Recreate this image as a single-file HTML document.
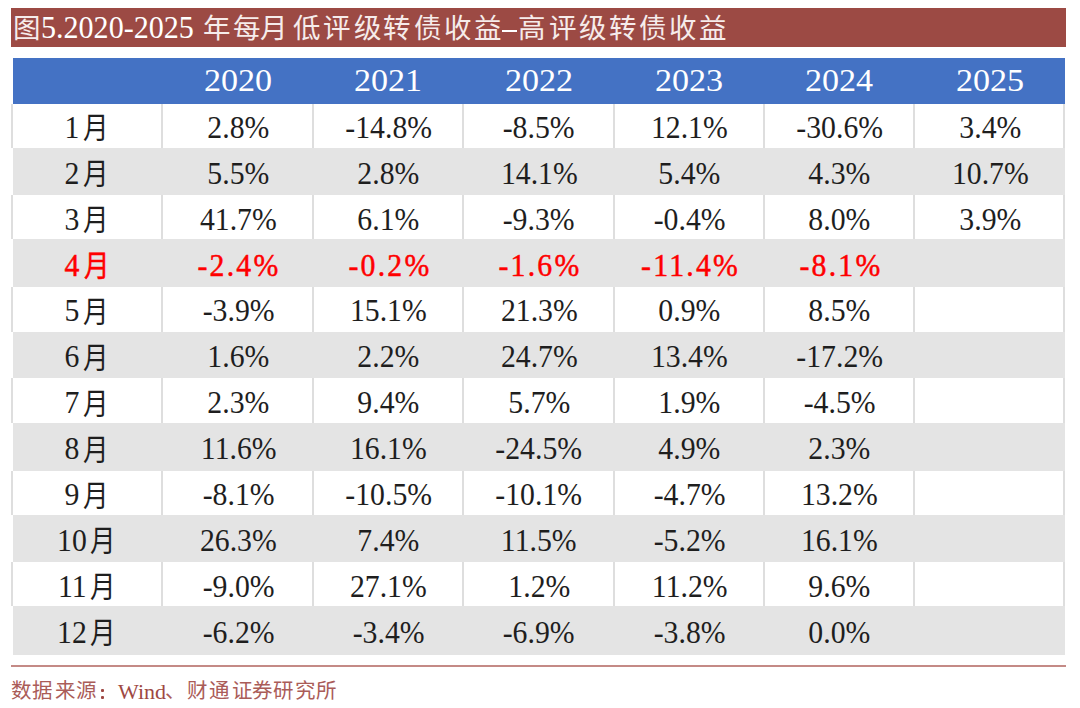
<!DOCTYPE html>
<html lang="zh-CN"><head><meta charset="utf-8"><style>
html,body{margin:0;padding:0;background:#fff;width:1080px;height:708px;overflow:hidden;position:relative}
body{font-family:"Liberation Serif",serif;color:#1e1e1e}
.t{position:absolute;white-space:nowrap;text-align:center;line-height:1;width:150px}
.c{position:absolute;white-space:nowrap;text-align:center;line-height:1;width:60px}
.t span,.c span{display:inline-block}
.bar{position:absolute;left:11px;top:8px;width:1055px;height:39px;background:#9C4A44}
.hdr{position:absolute;left:13px;top:58px;width:1052px;height:46px;background:#4472C4}
.g{position:absolute;left:13px;width:1052px;background:#E4E4E4}
.vl{position:absolute;width:2px;background:#DEDEDE}
.red{color:#FF0000;-webkit-text-stroke:0.5px #FF0000}
.w{color:#fff}
.s{color:#9E4843}
.sc{color:#AA5C58}
.wc{color:#F6ECEB}
.rl{position:absolute;left:11px;top:665px;width:1055px;height:2px;background:#C48A86}
.n{position:absolute;white-space:nowrap;line-height:1}
</style></head><body>

<div class="bar"></div>
<div class="c wc" style="left:-3.9px;width:60px;top:15.3px;font-size:27.5px">图</div>
<div class="c wc" style="left:186.0px;width:60px;top:15.3px;font-size:27.5px">年</div>
<div class="c wc" style="left:216.2px;width:60px;top:15.3px;font-size:27.5px">每</div>
<div class="c wc" style="left:243.8px;width:60px;top:15.3px;font-size:27.5px">月</div>
<div class="c wc" style="left:276.5px;width:60px;top:15.3px;font-size:27.5px">低</div>
<div class="c wc" style="left:306.5px;width:60px;top:15.3px;font-size:27.5px">评</div>
<div class="c wc" style="left:337.2px;width:60px;top:15.3px;font-size:27.5px">级</div>
<div class="c wc" style="left:366.7px;width:60px;top:15.3px;font-size:27.5px">转</div>
<div class="c wc" style="left:397.1px;width:60px;top:15.3px;font-size:27.5px">债</div>
<div class="c wc" style="left:427.0px;width:60px;top:15.3px;font-size:27.5px">收</div>
<div class="c wc" style="left:457.0px;width:60px;top:15.3px;font-size:27.5px">益</div>
<div class="c wc" style="left:501.4px;width:60px;top:15.3px;font-size:27.5px">高</div>
<div class="c wc" style="left:532.2px;width:60px;top:15.3px;font-size:27.5px">评</div>
<div class="c wc" style="left:562.6px;width:60px;top:15.3px;font-size:27.5px">级</div>
<div class="c wc" style="left:592.1px;width:60px;top:15.3px;font-size:27.5px">转</div>
<div class="c wc" style="left:622.5px;width:60px;top:15.3px;font-size:27.5px">债</div>
<div class="c wc" style="left:652.6px;width:60px;top:15.3px;font-size:27.5px">收</div>
<div class="c wc" style="left:682.5px;width:60px;top:15.3px;font-size:27.5px">益</div>
<div class="n w" style="left:40.5px;top:11.5px;font-size:31px;transform:scaleX(0.97);transform-origin:0 0">5.2020-2025</div>
<div style="position:absolute;left:501.7px;top:30px;width:15.5px;height:1.8px;background:#fff"></div>
<div class="hdr"></div>
<div class="vl" style="left:11px;top:104px;height:44px"></div>
<div class="vl" style="left:161px;top:104px;height:44px"></div>
<div class="vl" style="left:312px;top:104px;height:44px"></div>
<div class="vl" style="left:462px;top:104px;height:44px"></div>
<div class="vl" style="left:613px;top:104px;height:44px"></div>
<div class="vl" style="left:763px;top:104px;height:44px"></div>
<div class="vl" style="left:913px;top:104px;height:44px"></div>
<div class="vl" style="left:1063px;top:104px;height:44px"></div>
<div class="g" style="top:148px;height:47.0px"></div>
<div class="vl" style="left:11px;top:195px;height:44px"></div>
<div class="vl" style="left:161px;top:195px;height:44px"></div>
<div class="vl" style="left:312px;top:195px;height:44px"></div>
<div class="vl" style="left:462px;top:195px;height:44px"></div>
<div class="vl" style="left:613px;top:195px;height:44px"></div>
<div class="vl" style="left:763px;top:195px;height:44px"></div>
<div class="vl" style="left:913px;top:195px;height:44px"></div>
<div class="vl" style="left:1063px;top:195px;height:44px"></div>
<div class="g" style="top:239px;height:48.0px"></div>
<div class="vl" style="left:11px;top:287px;height:45px"></div>
<div class="vl" style="left:161px;top:287px;height:45px"></div>
<div class="vl" style="left:312px;top:287px;height:45px"></div>
<div class="vl" style="left:462px;top:287px;height:45px"></div>
<div class="vl" style="left:613px;top:287px;height:45px"></div>
<div class="vl" style="left:763px;top:287px;height:45px"></div>
<div class="vl" style="left:913px;top:287px;height:45px"></div>
<div class="vl" style="left:1063px;top:287px;height:45px"></div>
<div class="g" style="top:332px;height:46.0px"></div>
<div class="vl" style="left:11px;top:378px;height:45px"></div>
<div class="vl" style="left:161px;top:378px;height:45px"></div>
<div class="vl" style="left:312px;top:378px;height:45px"></div>
<div class="vl" style="left:462px;top:378px;height:45px"></div>
<div class="vl" style="left:613px;top:378px;height:45px"></div>
<div class="vl" style="left:763px;top:378px;height:45px"></div>
<div class="vl" style="left:913px;top:378px;height:45px"></div>
<div class="vl" style="left:1063px;top:378px;height:45px"></div>
<div class="g" style="top:423px;height:48.0px"></div>
<div class="vl" style="left:11px;top:471px;height:44px"></div>
<div class="vl" style="left:161px;top:471px;height:44px"></div>
<div class="vl" style="left:312px;top:471px;height:44px"></div>
<div class="vl" style="left:462px;top:471px;height:44px"></div>
<div class="vl" style="left:613px;top:471px;height:44px"></div>
<div class="vl" style="left:763px;top:471px;height:44px"></div>
<div class="vl" style="left:913px;top:471px;height:44px"></div>
<div class="vl" style="left:1063px;top:471px;height:44px"></div>
<div class="g" style="top:515px;height:47.0px"></div>
<div class="vl" style="left:11px;top:562px;height:44px"></div>
<div class="vl" style="left:161px;top:562px;height:44px"></div>
<div class="vl" style="left:312px;top:562px;height:44px"></div>
<div class="vl" style="left:462px;top:562px;height:44px"></div>
<div class="vl" style="left:613px;top:562px;height:44px"></div>
<div class="vl" style="left:763px;top:562px;height:44px"></div>
<div class="vl" style="left:913px;top:562px;height:44px"></div>
<div class="vl" style="left:1063px;top:562px;height:44px"></div>
<div class="g" style="top:606px;height:49.0px"></div>
<div class="t w" style="left:163.0px;top:65.2px;font-size:31px"><span style="transform:scaleX(1.1)">2020</span></div>
<div class="t w" style="left:313.2px;top:65.2px;font-size:31px"><span style="transform:scaleX(1.1)">2021</span></div>
<div class="t w" style="left:463.7px;top:65.2px;font-size:31px"><span style="transform:scaleX(1.1)">2022</span></div>
<div class="t w" style="left:614.1px;top:65.2px;font-size:31px"><span style="transform:scaleX(1.1)">2023</span></div>
<div class="t w" style="left:764.4px;top:65.2px;font-size:31px"><span style="transform:scaleX(1.1)">2024</span></div>
<div class="t w" style="left:914.6px;top:65.2px;font-size:31px"><span style="transform:scaleX(1.1)">2025</span></div>
<div class="c " style="left:42.2px;width:60px;top:110.8px;font-size:32px"><span style="transform:scaleX(0.93)">1</span></div>
<div class="c " style="left:66.3px;width:60px;top:113.3px;font-size:30px"><span style="transform:scaleX(0.85)">月</span></div>
<div class="t " style="left:163.3px;top:110.8px;font-size:32px"><span style="transform:scaleX(0.93)">2.8%</span></div>
<div class="t " style="left:313.6px;top:110.8px;font-size:32px"><span style="transform:scaleX(0.93)">-14.8%</span></div>
<div class="t " style="left:464.0px;top:110.8px;font-size:32px"><span style="transform:scaleX(0.93)">-8.5%</span></div>
<div class="t " style="left:614.4px;top:110.8px;font-size:32px"><span style="transform:scaleX(0.93)">12.1%</span></div>
<div class="t " style="left:764.7px;top:110.8px;font-size:32px"><span style="transform:scaleX(0.93)">-30.6%</span></div>
<div class="t " style="left:914.9px;top:110.8px;font-size:32px"><span style="transform:scaleX(0.93)">3.4%</span></div>
<div class="c " style="left:42.2px;width:60px;top:156.7px;font-size:32px"><span style="transform:scaleX(0.93)">2</span></div>
<div class="c " style="left:66.3px;width:60px;top:159.2px;font-size:30px"><span style="transform:scaleX(0.85)">月</span></div>
<div class="t " style="left:163.3px;top:156.7px;font-size:32px"><span style="transform:scaleX(0.93)">5.5%</span></div>
<div class="t " style="left:313.6px;top:156.7px;font-size:32px"><span style="transform:scaleX(0.93)">2.8%</span></div>
<div class="t " style="left:464.0px;top:156.7px;font-size:32px"><span style="transform:scaleX(0.93)">14.1%</span></div>
<div class="t " style="left:614.4px;top:156.7px;font-size:32px"><span style="transform:scaleX(0.93)">5.4%</span></div>
<div class="t " style="left:764.7px;top:156.7px;font-size:32px"><span style="transform:scaleX(0.93)">4.3%</span></div>
<div class="t " style="left:914.9px;top:156.7px;font-size:32px"><span style="transform:scaleX(0.93)">10.7%</span></div>
<div class="c " style="left:42.2px;width:60px;top:202.6px;font-size:32px"><span style="transform:scaleX(0.93)">3</span></div>
<div class="c " style="left:66.3px;width:60px;top:205.1px;font-size:30px"><span style="transform:scaleX(0.85)">月</span></div>
<div class="t " style="left:163.3px;top:202.6px;font-size:32px"><span style="transform:scaleX(0.93)">41.7%</span></div>
<div class="t " style="left:313.6px;top:202.6px;font-size:32px"><span style="transform:scaleX(0.93)">6.1%</span></div>
<div class="t " style="left:464.0px;top:202.6px;font-size:32px"><span style="transform:scaleX(0.93)">-9.3%</span></div>
<div class="t " style="left:614.4px;top:202.6px;font-size:32px"><span style="transform:scaleX(0.93)">-0.4%</span></div>
<div class="t " style="left:764.7px;top:202.6px;font-size:32px"><span style="transform:scaleX(0.93)">8.0%</span></div>
<div class="t " style="left:914.9px;top:202.6px;font-size:32px"><span style="transform:scaleX(0.93)">3.9%</span></div>
<div class="c red" style="left:42.2px;width:60px;top:248.5px;font-size:32px"><span style="transform:scaleX(0.93)">4</span></div>
<div class="c red" style="left:67.3px;width:60px;top:251.0px;font-size:30px"><span style="transform:scaleX(0.85)">月</span></div>
<div class="t red" style="left:163.3px;top:248.5px;font-size:32px"><span style="transform:scaleX(0.93);letter-spacing:2.4px;padding-left:2.4px">-2.4%</span></div>
<div class="t red" style="left:313.6px;top:248.5px;font-size:32px"><span style="transform:scaleX(0.93);letter-spacing:2.4px;padding-left:2.4px">-0.2%</span></div>
<div class="t red" style="left:464.0px;top:248.5px;font-size:32px"><span style="transform:scaleX(0.93);letter-spacing:2.4px;padding-left:2.4px">-1.6%</span></div>
<div class="t red" style="left:614.4px;top:248.5px;font-size:32px"><span style="transform:scaleX(0.93);letter-spacing:2.4px;padding-left:2.4px">-11.4%</span></div>
<div class="t red" style="left:764.7px;top:248.5px;font-size:32px"><span style="transform:scaleX(0.93);letter-spacing:2.4px;padding-left:2.4px">-8.1%</span></div>
<div class="c " style="left:42.2px;width:60px;top:294.4px;font-size:32px"><span style="transform:scaleX(0.93)">5</span></div>
<div class="c " style="left:66.3px;width:60px;top:296.9px;font-size:30px"><span style="transform:scaleX(0.85)">月</span></div>
<div class="t " style="left:163.3px;top:294.4px;font-size:32px"><span style="transform:scaleX(0.93)">-3.9%</span></div>
<div class="t " style="left:313.6px;top:294.4px;font-size:32px"><span style="transform:scaleX(0.93)">15.1%</span></div>
<div class="t " style="left:464.0px;top:294.4px;font-size:32px"><span style="transform:scaleX(0.93)">21.3%</span></div>
<div class="t " style="left:614.4px;top:294.4px;font-size:32px"><span style="transform:scaleX(0.93)">0.9%</span></div>
<div class="t " style="left:764.7px;top:294.4px;font-size:32px"><span style="transform:scaleX(0.93)">8.5%</span></div>
<div class="c " style="left:42.2px;width:60px;top:340.3px;font-size:32px"><span style="transform:scaleX(0.93)">6</span></div>
<div class="c " style="left:66.3px;width:60px;top:342.8px;font-size:30px"><span style="transform:scaleX(0.85)">月</span></div>
<div class="t " style="left:163.3px;top:340.3px;font-size:32px"><span style="transform:scaleX(0.93)">1.6%</span></div>
<div class="t " style="left:313.6px;top:340.3px;font-size:32px"><span style="transform:scaleX(0.93)">2.2%</span></div>
<div class="t " style="left:464.0px;top:340.3px;font-size:32px"><span style="transform:scaleX(0.93)">24.7%</span></div>
<div class="t " style="left:614.4px;top:340.3px;font-size:32px"><span style="transform:scaleX(0.93)">13.4%</span></div>
<div class="t " style="left:764.7px;top:340.3px;font-size:32px"><span style="transform:scaleX(0.93)">-17.2%</span></div>
<div class="c " style="left:42.2px;width:60px;top:386.2px;font-size:32px"><span style="transform:scaleX(0.93)">7</span></div>
<div class="c " style="left:66.3px;width:60px;top:388.7px;font-size:30px"><span style="transform:scaleX(0.85)">月</span></div>
<div class="t " style="left:163.3px;top:386.2px;font-size:32px"><span style="transform:scaleX(0.93)">2.3%</span></div>
<div class="t " style="left:313.6px;top:386.2px;font-size:32px"><span style="transform:scaleX(0.93)">9.4%</span></div>
<div class="t " style="left:464.0px;top:386.2px;font-size:32px"><span style="transform:scaleX(0.93)">5.7%</span></div>
<div class="t " style="left:614.4px;top:386.2px;font-size:32px"><span style="transform:scaleX(0.93)">1.9%</span></div>
<div class="t " style="left:764.7px;top:386.2px;font-size:32px"><span style="transform:scaleX(0.93)">-4.5%</span></div>
<div class="c " style="left:42.2px;width:60px;top:432.1px;font-size:32px"><span style="transform:scaleX(0.93)">8</span></div>
<div class="c " style="left:66.3px;width:60px;top:434.6px;font-size:30px"><span style="transform:scaleX(0.85)">月</span></div>
<div class="t " style="left:163.3px;top:432.1px;font-size:32px"><span style="transform:scaleX(0.93)">11.6%</span></div>
<div class="t " style="left:313.6px;top:432.1px;font-size:32px"><span style="transform:scaleX(0.93)">16.1%</span></div>
<div class="t " style="left:464.0px;top:432.1px;font-size:32px"><span style="transform:scaleX(0.93)">-24.5%</span></div>
<div class="t " style="left:614.4px;top:432.1px;font-size:32px"><span style="transform:scaleX(0.93)">4.9%</span></div>
<div class="t " style="left:764.7px;top:432.1px;font-size:32px"><span style="transform:scaleX(0.93)">2.3%</span></div>
<div class="c " style="left:42.2px;width:60px;top:478.0px;font-size:32px"><span style="transform:scaleX(0.93)">9</span></div>
<div class="c " style="left:66.3px;width:60px;top:480.5px;font-size:30px"><span style="transform:scaleX(0.85)">月</span></div>
<div class="t " style="left:163.3px;top:478.0px;font-size:32px"><span style="transform:scaleX(0.93)">-8.1%</span></div>
<div class="t " style="left:313.6px;top:478.0px;font-size:32px"><span style="transform:scaleX(0.93)">-10.5%</span></div>
<div class="t " style="left:464.0px;top:478.0px;font-size:32px"><span style="transform:scaleX(0.93)">-10.1%</span></div>
<div class="t " style="left:614.4px;top:478.0px;font-size:32px"><span style="transform:scaleX(0.93)">-4.7%</span></div>
<div class="t " style="left:764.7px;top:478.0px;font-size:32px"><span style="transform:scaleX(0.93)">13.2%</span></div>
<div class="c " style="left:42.2px;width:60px;top:523.9px;font-size:32px"><span style="transform:scaleX(0.93)">10</span></div>
<div class="c " style="left:72.8px;width:60px;top:526.4px;font-size:30px"><span style="transform:scaleX(0.85)">月</span></div>
<div class="t " style="left:163.3px;top:523.9px;font-size:32px"><span style="transform:scaleX(0.93)">26.3%</span></div>
<div class="t " style="left:313.6px;top:523.9px;font-size:32px"><span style="transform:scaleX(0.93)">7.4%</span></div>
<div class="t " style="left:464.0px;top:523.9px;font-size:32px"><span style="transform:scaleX(0.93)">11.5%</span></div>
<div class="t " style="left:614.4px;top:523.9px;font-size:32px"><span style="transform:scaleX(0.93)">-5.2%</span></div>
<div class="t " style="left:764.7px;top:523.9px;font-size:32px"><span style="transform:scaleX(0.93)">16.1%</span></div>
<div class="c " style="left:42.2px;width:60px;top:569.8px;font-size:32px"><span style="transform:scaleX(0.93)">11</span></div>
<div class="c " style="left:72.8px;width:60px;top:572.3px;font-size:30px"><span style="transform:scaleX(0.85)">月</span></div>
<div class="t " style="left:163.3px;top:569.8px;font-size:32px"><span style="transform:scaleX(0.93)">-9.0%</span></div>
<div class="t " style="left:313.6px;top:569.8px;font-size:32px"><span style="transform:scaleX(0.93)">27.1%</span></div>
<div class="t " style="left:464.0px;top:569.8px;font-size:32px"><span style="transform:scaleX(0.93)">1.2%</span></div>
<div class="t " style="left:614.4px;top:569.8px;font-size:32px"><span style="transform:scaleX(0.93)">11.2%</span></div>
<div class="t " style="left:764.7px;top:569.8px;font-size:32px"><span style="transform:scaleX(0.93)">9.6%</span></div>
<div class="c " style="left:42.2px;width:60px;top:615.7px;font-size:32px"><span style="transform:scaleX(0.93)">12</span></div>
<div class="c " style="left:72.8px;width:60px;top:618.2px;font-size:30px"><span style="transform:scaleX(0.85)">月</span></div>
<div class="t " style="left:163.3px;top:615.7px;font-size:32px"><span style="transform:scaleX(0.93)">-6.2%</span></div>
<div class="t " style="left:313.6px;top:615.7px;font-size:32px"><span style="transform:scaleX(0.93)">-3.4%</span></div>
<div class="t " style="left:464.0px;top:615.7px;font-size:32px"><span style="transform:scaleX(0.93)">-6.9%</span></div>
<div class="t " style="left:614.4px;top:615.7px;font-size:32px"><span style="transform:scaleX(0.93)">-3.8%</span></div>
<div class="t " style="left:764.7px;top:615.7px;font-size:32px"><span style="transform:scaleX(0.93)">0.0%</span></div>
<div class="rl"></div>
<div class="c sc" style="left:1.3px;width:40px;top:681.0px;font-size:20.5px">数</div>
<div class="c sc" style="left:22.2px;width:40px;top:681.0px;font-size:20.5px">据</div>
<div class="c sc" style="left:44.7px;width:40px;top:681.0px;font-size:20.5px">来</div>
<div class="c sc" style="left:66.3px;width:40px;top:681.0px;font-size:20.5px">源</div>
<div class="c sc" style="left:155.0px;width:40px;top:681.0px;font-size:20.5px">、</div>
<div class="c sc" style="left:176.9px;width:40px;top:681.0px;font-size:20.5px">财</div>
<div class="c sc" style="left:199.1px;width:40px;top:681.0px;font-size:20.5px">通</div>
<div class="c sc" style="left:221.5px;width:40px;top:681.0px;font-size:20.5px">证</div>
<div class="c sc" style="left:241.6px;width:40px;top:681.0px;font-size:20.5px">券</div>
<div class="c sc" style="left:262.7px;width:40px;top:681.0px;font-size:20.5px">研</div>
<div class="c sc" style="left:285.2px;width:40px;top:681.0px;font-size:20.5px">究</div>
<div class="c sc" style="left:306.3px;width:40px;top:681.0px;font-size:20.5px">所</div>
<div style="position:absolute;left:100.5px;top:688.8px;width:3.3px;height:2.8px;border-radius:1px;background:#9E4843"></div>
<div style="position:absolute;left:100.8px;top:696px;width:3.3px;height:2.8px;border-radius:1px;background:#9E4843"></div>
<div class="n s" style="left:118px;top:681.3px;font-size:22px">Wind</div>
</body></html>
